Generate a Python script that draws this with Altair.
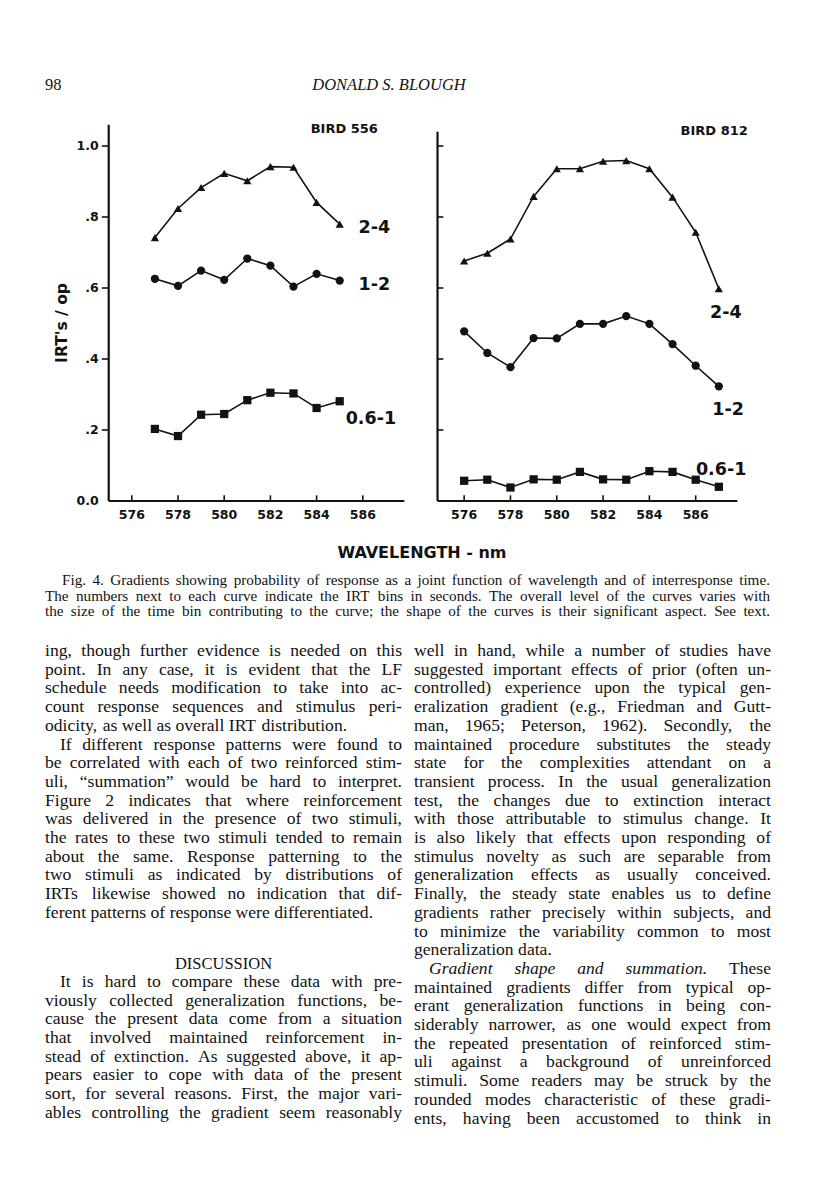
import altair as alt
import pandas as pd

# ---------------- values ----------------
wavelength_556 = [577, 578, 579, 580, 581, 582, 583, 584, 585]
bird556_2_4 = [0.742, 0.824, 0.883, 0.923, 0.902, 0.942, 0.940, 0.841, 0.780]
bird556_1_2 = [0.626, 0.606, 0.649, 0.623, 0.683, 0.663, 0.604, 0.640, 0.621]
bird556_06_1 = [0.203, 0.183, 0.243, 0.245, 0.284, 0.305, 0.303, 0.262, 0.281]

wavelength_812 = [576, 577, 578, 579, 580, 581, 582, 583, 584, 585, 586, 587]
bird812_2_4 = [0.676, 0.698, 0.738, 0.858, 0.936, 0.936, 0.957, 0.959, 0.936, 0.856, 0.757, 0.598]
bird812_1_2 = [0.478, 0.417, 0.377, 0.459, 0.458, 0.499, 0.499, 0.521, 0.499, 0.442, 0.381, 0.323]
bird812_06_1 = [0.057, 0.060, 0.038, 0.061, 0.060, 0.082, 0.061, 0.060, 0.084, 0.082, 0.060, 0.040]

series_names = ["2-4", "1-2", "0.6-1"]
series_shapes = ["triangle-up", "circle", "square"]
x_tick_values = [576, 578, 580, 582, 584, 586]
y_tick_values = [0.0, 0.2, 0.4, 0.6, 0.8, 1.0]
y_tick_labels = ["0.0", ".2", ".4", ".6", ".8", "1.0"]

# curve labels (wavelength, IRT/op) next to each curve
labels_556 = [(586.5, 0.770), (586.5, 0.608), (586.35, 0.232)]
labels_812 = [(587.3, 0.530), (587.4, 0.256), (587.1, 0.087)]
bird_556 = ("BIRD   556", 585.2, 1.048)
bird_812 = ("BIRD   812", 586.8, 1.042)

header_page = "98"
header_author = "DONALD S. BLOUGH"
y_title = "IRT's / op"
x_title = "WAVELENGTH - nm"

caption_lines = [
    "Fig. 4. Gradients showing probability of response as a joint function of wavelength and of interresponse time.",
    "The numbers next to each curve indicate the IRT bins in seconds. The overall level of the curves varies with",
    "the size of the time bin contributing to the curve; the shape of the curves is their significant aspect. See text.",
]

left_col_a = [
    "ing, though further evidence is needed on this",
    "point. In any case, it is evident that the LF",
    "schedule needs modification to take into ac-",
    "count response sequences and stimulus peri-",
    "odicity, as well as overall IRT distribution.",
    "If different response patterns were found to",
    "be correlated with each of two reinforced stim-",
    "uli, \u201csummation\u201d would be hard to interpret.",
    "Figure 2 indicates that where reinforcement",
    "was delivered in the presence of two stimuli,",
    "the rates to these two stimuli tended to remain",
    "about the same. Response patterning to the",
    "two stimuli as indicated by distributions of",
    "IRTs likewise showed no indication that dif-",
    "ferent patterns of response were differentiated.",
]
heading = "DISCUSSION"
left_col_b = [
    "It is hard to compare these data with pre-",
    "viously collected generalization functions, be-",
    "cause the present data come from a situation",
    "that involved maintained reinforcement in-",
    "stead of extinction. As suggested above, it ap-",
    "pears easier to cope with data of the present",
    "sort, for several reasons. First, the major vari-",
    "ables controlling the gradient seem reasonably",
]
right_col = [
    "well in hand, while a number of studies have",
    "suggested important effects of prior (often un-",
    "controlled) experience upon the typical gen-",
    "eralization gradient (e.g., Friedman and Gutt-",
    "man, 1965; Peterson, 1962). Secondly, the",
    "maintained procedure substitutes the steady",
    "state for the complexities attendant on a",
    "transient process. In the usual generalization",
    "test, the changes due to extinction interact",
    "with those attributable to stimulus change. It",
    "is also likely that effects upon responding of",
    "stimulus novelty as such are separable from",
    "generalization effects as usually conceived.",
    "Finally, the steady state enables us to define",
    "gradients rather precisely within subjects, and",
    "to minimize the variability common to most",
    "generalization data.",
    "Gradient shape and summation. These",
    "maintained gradients differ from typical op-",
    "erant generalization functions in being con-",
    "siderably narrower, as one would expect from",
    "the repeated presentation of reinforced stim-",
    "uli against a background of unreinforced",
    "stimuli. Some readers may be struck by the",
    "rounded modes characteristic of these gradi-",
    "ents, having been accustomed to think in",
]

# ---------------- styling / layout ----------------
INK = "#121212"
FIG_FONT = "DejaVu Sans"
TEXT_FONT = "Liberation Serif"
Y_RANGE = [493, 138]          # value 0 and value 1 (chart px)
BODY_SIZE = 17.6
CAP_SIZE = 15.2

# Times-Roman advance widths (per 1000 em), used to justify the text columns
TR = {' ': 250, '!': 333, '"': 408, "'": 333, '(': 333, ')': 333, ',': 250, '-': 333,
      '.': 250, '/': 278, ':': 278, ';': 278, '?': 444, '\u201c': 444, '\u201d': 444}
for ch in "0123456789":
    TR[ch] = 500
TR.update(dict(zip("ABCDEFGHIJKLMNOPQRSTUVWXYZ",
                   [722, 667, 667, 722, 611, 556, 722, 722, 333, 389, 722, 611, 889,
                    722, 722, 556, 722, 667, 556, 611, 722, 722, 944, 722, 722, 611])))
TR.update(dict(zip("abcdefghijklmnopqrstuvwxyz",
                   [444, 500, 444, 500, 444, 333, 500, 500, 278, 278, 500, 278, 778,
                    500, 500, 500, 500, 333, 389, 278, 500, 500, 722, 500, 500, 444])))
TI = dict(TR)
TI.update({'a': 500, 'r': 389, 'm': 722, 'f': 278, 'G': 722})


def tw(s, size, italic=False):
    tab = TI if italic else TR
    return sum(tab.get(c, 500) for c in s) * size / 1000.0


def set_lines(lines, idxs, x0, width, size, indents, ragged, italic_lead=None):
    rows = []
    italic_lead = italic_lead or {}
    for k, (ln, li) in enumerate(zip(lines, idxs)):
        words = ln.split(" ")
        nit = italic_lead.get(k, 0)
        its = [j < nit for j in range(len(words))]
        wds = [tw(w, size, it) for w, it in zip(words, its)]
        ind = indents.get(k, 0)
        if k in ragged or len(words) < 2:
            gap = 0.25 * size
        else:
            gap = max(0.2 * size, (width - ind - sum(wds)) / (len(words) - 1))
        x = x0 + ind
        for w, wd, it in zip(words, wds, its):
            rows.append({"word": w, "x": x, "line": li, "style": "italic" if it else "normal"})
            x += wd + gap
    return rows


# ---------------- figure panels ----------------
def panel(wl, curves, x_range, axis_x, y_top, label_pos, bird, left_labels):
    xs = alt.Scale(domain=[575, 588], range=x_range, nice=False, zero=False)
    ys = alt.Scale(domain=[0, 1], range=Y_RANGE, nice=False, zero=False)

    def X(f):
        return alt.X(f, type="quantitative", scale=xs, axis=None)

    def Y(f):
        return alt.Y(f, type="quantitative", scale=ys, axis=None)

    df = pd.concat([pd.DataFrame({"wl": wl, "v": c, "series": n})
                    for n, c in zip(series_names, curves)], ignore_index=True)

    axes_df = pd.DataFrame({"x": [axis_x, axis_x], "x2": [587.8, axis_x],
                            "y": [0.0, 0.0], "y2": [0.0, y_top]})
    axis_lines = alt.Chart(axes_df).mark_rule(color=INK, strokeWidth=2.2).encode(
        x=X("x"), x2="x2:Q", y=Y("y"), y2="y2:Q")

    xt = pd.DataFrame({"t": x_tick_values, "lab": [str(v) for v in x_tick_values]})
    x_ticks = alt.Chart(xt).transform_calculate(y0="0", y1="0.016").mark_rule(
        color=INK, strokeWidth=1.6).encode(x=X("t"), y=Y("y0"), y2="y1:Q")
    x_labels = alt.Chart(xt).transform_calculate(y0="0").mark_text(
        baseline="top", dy=8, font=FIG_FONT, fontWeight="bold", fontSize=12.5, color=INK
    ).encode(x=X("t"), y=Y("y0"), text="lab:N")

    yt = pd.DataFrame({"v": y_tick_values[1:]})
    if left_labels:
        y_ticks = alt.Chart(yt).transform_calculate(x0=str(axis_x), x1=str(axis_x - 0.3)).mark_rule(
            color=INK, strokeWidth=1.6).encode(x=X("x0"), x2="x1:Q", y=Y("v"))
    else:
        y_ticks = alt.Chart(yt).transform_calculate(x0=str(axis_x), x1=str(axis_x + 0.25)).mark_rule(
            color=INK, strokeWidth=1.6).encode(x=X("x0"), x2="x1:Q", y=Y("v"))

    lines = alt.Chart(df).mark_line(color=INK, strokeWidth=1.6).encode(
        x=X("wl"), y=Y("v"), detail="series:N")
    pts = alt.Chart(df).mark_point(filled=True, color=INK, opacity=1, size=68).encode(
        x=X("wl"), y=Y("v"),
        shape=alt.Shape("series:N", scale=alt.Scale(domain=series_names, range=series_shapes),
                        legend=None))

    ldf = pd.DataFrame({"x": [p[0] for p in label_pos], "y": [p[1] for p in label_pos],
                        "t": series_names})
    curve_labels = alt.Chart(ldf).mark_text(
        font=FIG_FONT, fontWeight="bold", fontSize=17.5, color=INK, baseline="middle"
    ).encode(x=X("x"), y=Y("y"), text="t:N")

    bdf = pd.DataFrame({"t": [bird[0]], "x": [bird[1]], "y": [bird[2]]})
    bird_label = alt.Chart(bdf).mark_text(
        font=FIG_FONT, fontWeight="bold", fontSize=13, color=INK, baseline="middle"
    ).encode(x=X("x"), y=Y("y"), text="t:N")

    layers = [axis_lines, x_ticks, y_ticks, lines, pts, x_labels, curve_labels, bird_label]
    if left_labels:
        ylab = pd.DataFrame({"v": y_tick_values, "lab": y_tick_labels})
        y_labels = alt.Chart(ylab).transform_calculate(x0=str(axis_x)).mark_text(
            align="right", baseline="middle", dx=-10, font=FIG_FONT, fontWeight="bold",
            fontSize=12.5, color=INK).encode(x=X("x0"), y=Y("v"), text="lab:N")
        layers.append(y_labels)
    return alt.layer(*layers)


left_panel = panel(wavelength_556, [bird556_2_4, bird556_1_2, bird556_06_1],
                   [100.7, 401.0], 575.0, 1.06, labels_556, bird_556, True)
right_panel = panel(wavelength_812, [bird812_2_4, bird812_1_2, bird812_06_1],
                    [433.0, 734.0], 574.85, 1.04, labels_812, bird_812, False)


# ---------------- page texts ----------------
def single_text(t, x, y, **kw):
    return alt.Chart(pd.DataFrame({"t": [t]})).mark_text(color=INK, **kw).encode(
        x=alt.value(x), y=alt.value(y), text="t:N")


header1 = single_text(header_page, 37, 77, align="left", baseline="middle",
                      font=TEXT_FONT, fontSize=16.5)
header2 = single_text(header_author, 381, 77, align="center", baseline="middle",
                      font=TEXT_FONT, fontSize=16.5, fontStyle="italic")
ytitle = single_text(y_title, 54, 315, align="center", baseline="middle", angle=270,
                     font=FIG_FONT, fontWeight="bold", fontSize=15.5)
xtitle = single_text(x_title, 414, 545, align="center", baseline="middle",
                     font=FIG_FONT, fontWeight="bold", fontSize=16)

PX = alt.Scale(domain=[0, 800], range=[0, 800], nice=False, zero=False)

# caption
cap_rows = set_lines(caption_lines, [0, 1, 2], 37, 725, CAP_SIZE, {0: 17}, set())
cap_df = pd.DataFrame(cap_rows)
caption = alt.Chart(cap_df).mark_text(
    align="left", baseline="middle", font=TEXT_FONT, fontSize=CAP_SIZE, color=INK
).encode(x=alt.X("x:Q", scale=PX, axis=None),
         y=alt.Y("line:Q", scale=alt.Scale(domain=[0, 2], range=[572, 603], nice=False, zero=False),
                 axis=None),
         text="word:N")

# body columns
COL_W = 357
LEFT_X = 37
RIGHT_X = 406
left_rows = set_lines(left_col_a, list(range(15)), LEFT_X, COL_W, BODY_SIZE,
                      {5: 15}, {4, 14})
left_rows += set_lines(left_col_b, [17.7 + i for i in range(len(left_col_b))], LEFT_X, COL_W,
                       BODY_SIZE, {0: 15}, set())
right_rows = set_lines(right_col, list(range(len(right_col))), RIGHT_X, COL_W, BODY_SIZE,
                       {17: 15}, {16}, italic_lead={17: 4})
body_df = pd.DataFrame(left_rows + right_rows)
BODY_Y = alt.Scale(domain=[0, 25], range=[643, 643 + 25 * 18.7], nice=False, zero=False)


def body_layer(style):
    return alt.Chart(body_df[body_df["style"] == style]).mark_text(
        align="left", baseline="middle", font=TEXT_FONT, fontSize=BODY_SIZE, color=INK,
        fontStyle=style
    ).encode(x=alt.X("x:Q", scale=PX, axis=None),
             y=alt.Y("line:Q", scale=BODY_Y, axis=None),
             text="word:N")


heading_df = pd.DataFrame({"t": [heading], "x": [LEFT_X + COL_W / 2], "line": [16.75]})
heading_layer = alt.Chart(heading_df).mark_text(
    align="center", baseline="middle", font=TEXT_FONT, fontSize=16.5, color=INK
).encode(x=alt.X("x:Q", scale=PX, axis=None), y=alt.Y("line:Q", scale=BODY_Y, axis=None),
         text="t:N")

page = alt.layer(
    left_panel, right_panel, header1, header2, ytitle, xtitle, caption,
    body_layer("normal"), body_layer("italic"), heading_layer
).resolve_scale(x="independent", y="independent").properties(
    width=800, height=1184, autosize=alt.AutoSizeParams(type="none"), padding=0,
    background="white"
).configure_view(stroke=None)

page.save("out.html", embed_options={"renderer": "svg", "actions": False})
